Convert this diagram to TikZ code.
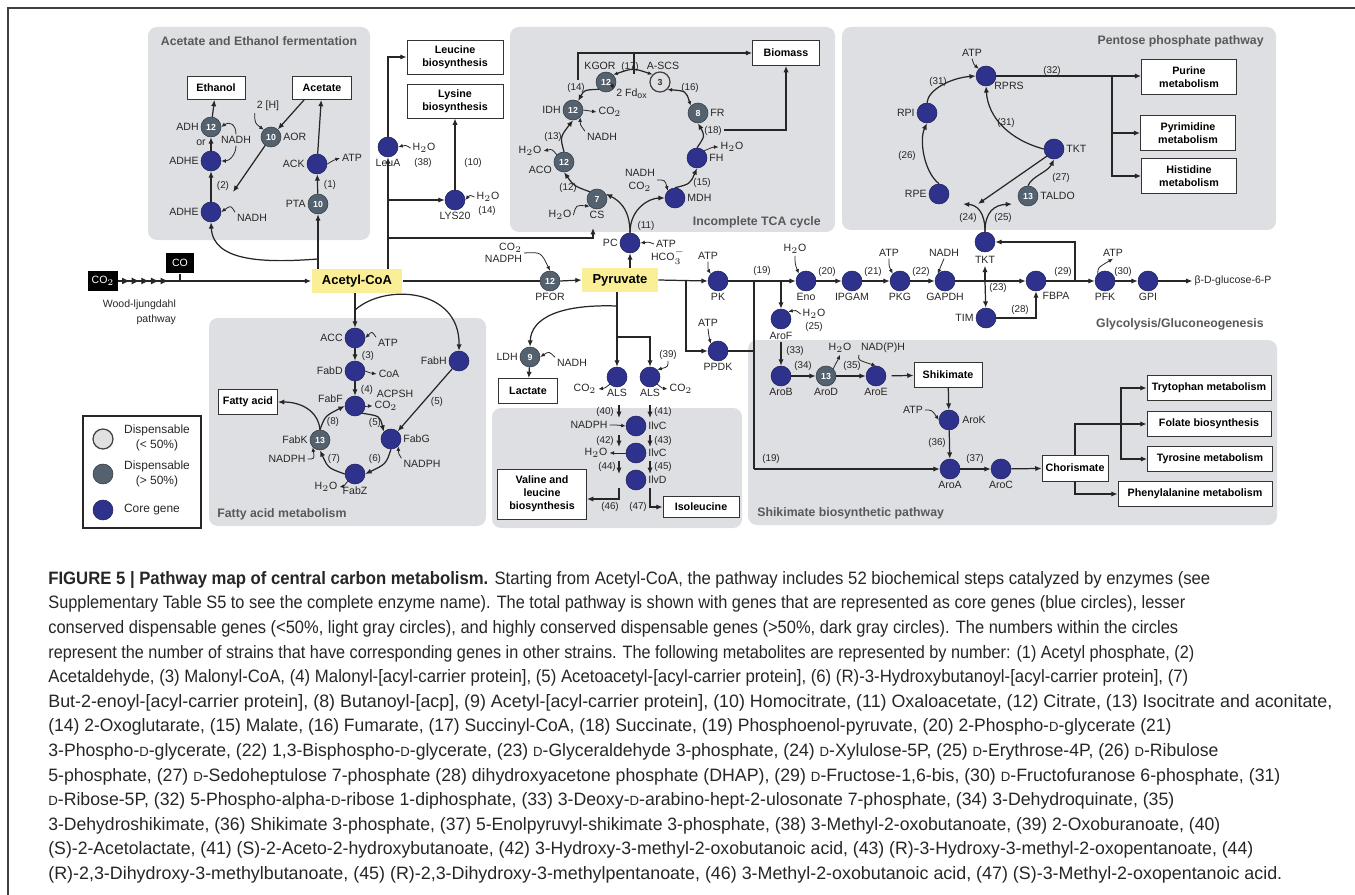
\documentclass[tikz,border=0pt]{standalone}
\usepackage{graphicx}
\usepackage{fontspec}
\setmainfont{Liberation Sans}
\newfontfamily\capfont{Liberation Sans}
\usetikzlibrary{arrows.meta,positioning,calc,decorations.markings}
\definecolor{coreblue}{RGB}{46,50,140}
\definecolor{slategray}{RGB}{84,97,110}
\definecolor{panelgray}{RGB}{222,223,226}
\definecolor{metyellow}{RGB}{250,239,150}
\newcommand\smallD{{\fontsize{7.6}{7.6}\selectfont D}}
\newlength\capunit
\setlength\capunit{0.02cm}
\newcommand\capline[2]{\resizebox{#1\capunit}{\height}{#2}}
\tikzset{
  core/.style={circle, fill=coreblue, draw=coreblue!65!black, line width=0.3pt, minimum size=0.4cm, inner sep=0pt},
  dgray/.style={core, fill=slategray, draw=slategray!60!black, text=white, font=\fontsize{5}{5}\selectfont\bfseries},
  lgray/.style={core, fill=black!12, draw=black!75, line width=0.7pt, text=black!80, font=\fontsize{5}{5}\selectfont\bfseries},
  lab/.style={font=\fontsize{6}{7}\selectfont, text=black!85, inner sep=1pt},
  num/.style={font=\fontsize{5.6}{6}\selectfont, text=black!85, inner sep=0.5pt},
  endbox/.style={draw=black!80, fill=white, line width=0.5pt, font=\fontsize{6.1}{7.4}\selectfont\bfseries, align=center, inner sep=1pt},
  metab/.style={fill=metyellow, font=\fontsize{7.4}{8}\selectfont\bfseries, minimum height=0.48cm, inner sep=2pt},
  blackbox/.style={fill=black, text=white, font=\fontsize{6}{6}\selectfont, minimum height=0.42cm, inner sep=0pt},
  panel/.style={fill=panelgray, rounded corners=5pt},
  title/.style={font=\fontsize{7}{8}\selectfont\bfseries, text=black!65, inner sep=0pt},
  flow/.style={-{Latex[length=3.6pt,width=3pt]}, line width=0.7pt, black!85},
  link/.style={line width=0.7pt, black!85},
  side/.style={-{Latex[length=2.6pt,width=2.2pt]}, line width=0.45pt, black!85},
}

\begin{document}
\begin{tikzpicture}[x=0.02cm, y=-0.02cm]
  \useasboundingbox (0,0) rectangle (1355,895);
  % frame
  \draw[line width=0.8pt, black!75] (1355,8) -- (8,8) -- (8,895);
  % panels
  \fill[panel] (148,27) rectangle (370,240);
  \fill[panel] (510,27) rectangle (835,232);
  \fill[panel] (842,27) rectangle (1276,230);
  \fill[panel] (209,318) rectangle (486,526);
  \fill[panel] (492,408) rectangle (742,528);
  \fill[panel] (748,340) rectangle (1277,525);
  \node[title] (ttlferm) at (259,41) {Acetate and Ethanol fermentation};
  \node[title, anchor=east] (ttltca) at (821,222) {Incomplete TCA cycle};
  \node[title, anchor=east] (ttlppp) at (1264,41) {Pentose phosphate pathway};
  \node[title, anchor=west] (ttlfat) at (217,514) {Fatty acid metabolism};
  \node[title, anchor=west] (ttlshik) at (757,513) {Shikimate biosynthetic pathway};
  \node[title, anchor=east] (ttlglyc) at (1264,324) {Glycolysis/Gluconeogenesis};

  % main line
  \node[metab, minimum width=1.82cm] (acoa) at (357,281) {Acetyl-CoA};
  \node[metab, minimum width=1.52cm] (pyr) at (620,280) {Pyruvate};
  \node[blackbox, minimum width=0.6cm] (co2) at (103,281) {CO$_2$};
  \node[blackbox, minimum width=0.56cm] (co) at (180,263) {CO};
  \node[lab, align=right, anchor=north east, font=\fontsize{6}{8.5}\selectfont] (wood) at (178,298) {Wood-ljungdahl\\pathway};
  \draw[flow, postaction={decorate}, decoration={markings,
    mark=between positions 0.06 and 0.31 step 0.05 with {\arrow{Latex[length=4.5pt,width=4pt]}}}] (co2) -- (acoa);
  \draw[link] (co.south) -- (co.south |- co2);

  % acetate and ethanol fermentation
  \node[endbox, minimum width=1.16cm, minimum height=0.46cm] (ethanol) at (216,88) {Ethanol};
  \node[endbox, minimum width=1.18cm, minimum height=0.46cm] (acetate) at (322,88) {Acetate};
  \node[dgray, label={[lab]left:ADH}] (adh) at (211,127) {12};
  \node[core, label={[lab]left:ADHE}] (adhe1) at (211,161) {};
  \node[core, label={[lab]left:ADHE}] (adhe2) at (211,212) {};
  \node[lab] (or) at (201,143) {or};
  \node[lab] (nadh1) at (236,140) {NADH};
  \node[lab] (nadh2) at (252,218) {NADH};
  \node[num] (s2) at (223,186) {(2)};
  \node[dgray, label={[lab]right:AOR}] (aor) at (271,137) {10};
  \node[lab] (h2a) at (268,106) {2 [H]};
  \node[core, label={[lab]left:ACK}] (ack) at (317,164) {};
  \node[lab] (atp1) at (352,158) {ATP};
  \node[dgray, label={[lab]left:PTA}] (pta) at (318,204) {10};
  \node[num] (s1) at (330,185) {(1)};
  \coordinate (aorend) at (233,192);
  \coordinate (ferm) at (318,259);
  \draw[flow] (adh) -- (ethanol);
  \draw[flow] (adhe1) -- (adh);
  \draw[flow] (adhe2) -- (adhe1);
  \draw[side] (nadh1.north) .. controls +(0,-10) and +(8,-6) .. (adh.east);
  \draw[side] (nadh1.south) .. controls +(0,9) and +(8,0) .. (adhe1.east);
  \draw[side] (nadh2.north west) .. controls +(-4,-7) .. (adhe2.east);
  \draw[flow] ([xshift=0.24cm]acetate.south west) -- (aor);
  \draw[flow] (aor) -- (aorend);
  \draw[side] (h2a.south west) .. controls +(0,10) .. (aor.north west);
  \draw[flow] (pta) -- (ack);
  \draw[flow] (ack) -- (acetate);
  \draw[side] (ack.east) .. controls (334,160) .. (atp1.west);
  \draw[flow] (acoa.north -| pta) -- (pta);
  \draw[flow] (ferm) .. controls (265,263) and (213,262) .. (adhe2.south);

  % leucine and lysine
  \node[endbox, minimum width=1.92cm, minimum height=0.68cm] (leu) at (455,57) {Leucine\\biosynthesis};
  \node[endbox, minimum width=1.92cm, minimum height=0.68cm] (lys) at (455,101) {Lysine\\biosynthesis};
  \node[core, label={[lab]below:LeuA}] (leua) at (388,147) {};
  \node[lab] (h2o38) at (424,148) {H$_2$O};
  \node[num] (s38) at (423,163) {(38)};
  \node[core, label={[lab]below:LYS20}] (lys20) at (455,200) {};
  \node[lab] (h2o14) at (488,197) {H$_2$O};
  \node[num] (s14b) at (487,211) {(14)};
  \node[num] (s10) at (473,163) {(10)};
  \coordinate (lysbr) at (388,200);
  \coordinate (csbr) at (388,238);
  \coordinate (csin) at (593,228);
  \draw[flow] (acoa.north -| leua) -- (leua);
  \draw[flow] (leua) |- (leu.west);
  \draw[side] (h2o38.west) .. controls +(-5,-3) .. (leua.east);
  \draw[flow] (lysbr) -- (lys20);
  \draw[flow] (lys20) -- (lys);
  \draw[side] (h2o14.west) .. controls +(-5,-2) .. (lys20.east);
  \draw[flow] (csbr) -| (csin);

  % incomplete TCA cycle
  \node[endbox, minimum width=1.34cm, minimum height=0.5cm] (biomass) at (786,53) {Biomass};
  \node[dgray] (kgor) at (606,82) {12};
  \node[lab] (kgorl) at (600,66) {KGOR};
  \node[lgray] (ascs) at (660,82) {3};
  \node[lab] (ascsl) at (663,66) {A-SCS};
  \node[num] (s17) at (630,67) {(17)};
  \node[dgray, label={[lab]left:IDH}] (idh) at (573,110) {12};
  \node[lab] (co2idh) at (610,112) {CO$_2$};
  \node[lab] (nadhidh) at (602,137) {NADH};
  \node[num] (s13) at (553,137) {(13)};
  \node[num] (s14) at (576,88) {(14)};
  \node[lab] (fdox) at (632,94) {2 Fd$_{\mathrm{ox}}$};
  \node[dgray, label={[lab]190:ACO}] (aco) at (564,162) {12};
  \node[lab] (h2oaco) at (530,151) {H$_2$O};
  \node[num] (s12) at (568,188) {(12)};
  \node[dgray, label={[lab]below:CS}] (cs) at (597,199) {7};
  \node[lab] (h2ocs) at (560,215) {H$_2$O};
  \node[num] (s11) at (646,226) {(11)};
  \node[core, label={[lab]left:PC}] (pc) at (630,243) {};
  \node[lab] (atppc) at (666,244) {ATP};
  \node[lab] (hco3) at (668,257) {HCO$_3^-$};
  \node[core, label={[lab]right:MDH}] (mdh) at (675,198) {};
  \node[lab, align=center, font=\fontsize{6}{7.4}\selectfont] (nadhmdh) at (640,180) {NADH\\CO$_2$};
  \node[num] (s15) at (702,183) {(15)};
  \node[core, label={[lab]right:FH}] (fh) at (697,158) {};
  \node[lab] (h2ofh) at (732,147) {H$_2$O};
  \node[num] (s18) at (713,131) {(18)};
  \node[dgray, label={[lab]right:FR}] (fr) at (698,113) {8};
  \node[num] (s16) at (690,88) {(16)};
  \coordinate (bm1) at (578,80);
  \coordinate (bm2) at (634,74);
  \coordinate (bm3) at (724,130);
  \draw[flow] (kgor.225) .. controls (584,90) .. (idh.60);
  \draw[flow] (aco.north) .. controls (560,137) .. (idh.south);
  \draw[flow] (cs.north west) .. controls (574,186) .. (aco.south);
  \draw[flow] (mdh.north) .. controls (690,184) .. (fh.south);
  \draw[flow] (fh.north) .. controls (705,136) .. (fr.south);
  \draw[side, {Latex[length=2.6pt,width=2.2pt]}-{Latex[length=2.6pt,width=2.2pt]}, line width=0.7pt] (ascs.south east) .. controls (686,91) .. (fr.north west);
  \draw[side, {Latex[length=2.6pt,width=2.2pt]}-{Latex[length=2.6pt,width=2.2pt]}, line width=0.7pt] (kgor.north east) .. controls (633,68) .. (ascs.north west);
  \draw[flow] (pc.north) .. controls (630,208) and (618,200) .. (cs.30);
  \draw[flow] (pc.north) .. controls (630,208) and (650,198) .. (mdh.west);
  \draw[flow] (pyr.north -| pc) -- (pc);
  \draw[side] (atppc.west) .. controls +(-5,-2) .. (pc.east);
  \draw[side] (idh.east) -- (co2idh.west);
  \draw[side] (nadhidh.north west) .. controls +(-5,-7) .. (idh.south east);
  \draw[side] (fdox.north west) .. controls +(-3,-4) .. (kgor.south east);
  \draw[side] (aco.north west) .. controls (552,149) .. (h2oaco.east);
  \draw[side] (h2ocs.east) .. controls (576,205) .. (cs.south west);
  \draw[side] (nadhmdh.east) .. controls +(8,0) .. (mdh.north west);
  \draw[side] (fh.north east) .. controls (713,147) .. (h2ofh.west);
  \draw[flow] (bm1) |- (biomass.west);
  \draw[link] (bm2) -- (bm2 |- biomass.west);
  \draw[flow] (bm3) -| (biomass.south);

  % pyruvate row
  \node[dgray, label={[lab]below:PFOR}] (pfor) at (550,281) {12};
  \node[lab, align=right, anchor=east, font=\fontsize{6}{6.6}\selectfont] (nadphpf) at (524,253) {CO$_2$\\NADPH};
  \draw[side] (nadphpf.east) .. controls (541,252) .. (pfor.north);
  \draw[link] (acoa.east) -- (pfor.west);
  \draw[flow] (pfor.east) -- (pyr.west);
  \node[core, label={[lab]below:PK}] (pk) at (718,281) {};
  \node[lab] (atppk) at (708,256) {ATP};
  \node[core, label={[lab]below:PPDK}] (ppdk) at (718,351) {};
  \node[lab] (atppp) at (708,323) {ATP};
  \coordinate (ppbr) at (686,281);
  \coordinate (shbr) at (754,281);
  \coordinate (shbot) at (754,469);
  \coordinate (arofbr) at (781,281);
  \draw[flow] (pyr.east) -- (pk.west);
  \draw[side] (atppk.south) .. controls +(0,8) .. (pk.north west);
  \draw[flow] (ppbr) |- (ppdk.west);
  \draw[side] (atppp.south) .. controls +(1,8) .. (ppdk.north west);
  \draw[link] (ppdk.east) -- (ppdk.east -| shbr);
  \draw[link] (shbr) -- (shbot);
  \node[num] (s19) at (762,271) {(19)};
  \node[num] (s19b) at (771,459) {(19)};

  % shikimate pathway
  \node[core] (arof) at (781,319) {};
  \node[lab] (arofl) at (781,336) {AroF};
  \node[lab] (h2oarof) at (814,314) {H$_2$O};
  \node[num] (s25b) at (814,327) {(25)};
  \node[num] (s33) at (795,351) {(33)};
  \node[core, label={[lab]below:AroB}] (arob) at (781,376) {};
  \node[dgray, label={[lab]below:AroD}] (arod) at (826,376) {13};
  \node[core, label={[lab]below:AroE}] (aroe) at (876,376) {};
  \node[num] (s34) at (803,366) {(34)};
  \node[num] (s35) at (852,366) {(35)};
  \node[lab] (h2oarod) at (840,348) {H$_2$O};
  \node[lab] (nadpharoe) at (883,348) {NAD(P)H};
  \node[endbox, minimum width=1.36cm, minimum height=0.5cm] (shik) at (948,375) {Shikimate};
  \node[core] (arok) at (949,420) {};
  \node[lab] (arokl) at (974,420) {AroK};
  \node[lab] (atparok) at (913,410) {ATP};
  \node[num] (s36) at (937,443) {(36)};
  \node[core, label={[lab]below:AroA}] (aroa) at (950,469) {};
  \node[core, label={[lab]below:AroC}] (aroc) at (1001,469) {};
  \node[num] (s37) at (975,459) {(37)};
  \node[endbox, minimum width=1.32cm, minimum height=0.52cm] (chor) at (1075,468) {Chorismate};
  \node[endbox, minimum width=2.48cm, minimum height=0.5cm] (trp) at (1209,388) {Trytophan metabolism};
  \node[endbox, minimum width=2.48cm, minimum height=0.5cm] (fol) at (1209,424) {Folate biosynthesis};
  \node[endbox, minimum width=2.5cm, minimum height=0.5cm] (tyr) at (1210,459) {Tyrosine metabolism};
  \node[endbox, minimum width=3.08cm, minimum height=0.5cm] (phe) at (1195,494) {Phenylalanine metabolism};
  \coordinate (aabr) at (1121,424);
  \draw[flow] (arofbr) -- (arof);
  \draw[side] (h2oarof.west) .. controls +(-5,-4) .. (arof.north east);
  \draw[flow] (arofl) -- (arob);
  \draw[flow] (arob) -- (arod);
  \draw[flow] (arod) -- (aroe);
  \draw[side] (arod.north east) .. controls +(3,-5) .. (h2oarod.south);
  \draw[side] (nadpharoe.south west) .. controls +(-1,5) .. (aroe.north);
  \draw[flow, shorten <=3pt] (aroe) -- (shik);
  \draw[flow] (shik) -- (arok);
  \draw[side] (atparok.east) .. controls +(7,0) .. (arok.west);
  \draw[flow] (arok) -- (aroa);
  \draw[flow] (shbot) -- (aroa.west);
  \draw[flow] (aroa) -- (aroc);
  \draw[flow] (aroc) -- (chor);
  \draw[flow] (chor.north) |- (fol.west);
  \draw[flow] (aabr) |- (trp.west);
  \draw[flow] (aabr) |- (tyr.west);
  \draw[flow] (chor.south) |- (phe.west);

  % glycolysis / gluconeogenesis
  \node[core, label={[lab]below:Eno}] (eno) at (806,281) {};
  \node[lab] (h2oeno) at (795,249) {H$_2$O};
  \node[core, label={[lab]below:IPGAM}] (ipgam) at (852,281) {};
  \node[core, label={[lab]below:PKG}] (pkg) at (900,281) {};
  \node[lab] (atppkg) at (889,253) {ATP};
  \node[core, label={[lab]below:GAPDH}] (gapdh) at (945,281) {};
  \node[lab] (nadhgap) at (944,253) {NADH};
  \node[core] (fbpa) at (1036,281) {};
  \node[lab] (fbpal) at (1056,296) {FBPA};
  \node[core] (tkt2) at (985,242) {};
  \node[lab] (tkt2l) at (985,260) {TKT};
  \node[core, label={[lab]left:TIM}] (tim) at (986,318) {};
  \node[core, label={[lab]below:PFK}] (pfk) at (1105,281) {};
  \node[lab] (atppfk) at (1113,253) {ATP};
  \node[core, label={[lab]below:GPI}] (gpi) at (1148,281) {};
  \node[lab] (glc6p) at (1233,281) {β-D-glucose-6-P};
  \node[num] (s20) at (827,272) {(20)};
  \node[num] (s21) at (873,272) {(21)};
  \node[num] (s22) at (921,272) {(22)};
  \node[num] (s23) at (998,288) {(23)};
  \node[num] (s28) at (1020,310) {(28)};
  \node[num] (s29) at (1063,272) {(29)};
  \node[num] (s30) at (1123,272) {(30)};
  \coordinate (tktbr) at (985,281);
  \coordinate (tktbr2) at (1075,281);
  \draw[flow] (pk.east) -- (eno.west);
  \draw[side] (h2oeno.south) .. controls +(0,8) .. (eno.north west);
  \draw[flow] (eno) -- (ipgam);
  \draw[flow] (ipgam) -- (pkg);
  \draw[side] (atppkg.south) .. controls +(0,8) .. (pkg.north west);
  \draw[flow] (pkg) -- (gapdh);
  \draw[side] (nadhgap.south) .. controls +(-3,7) .. (gapdh.north west);
  \draw[flow] (gapdh) -- (fbpa);
  \draw[flow] (tktbr) -- (tkt2l);
  \draw[flow] (tktbr) -- (tim);
  \draw[flow] (tim) -| (fbpa);
  \draw[flow] (fbpa) -- (pfk);
  \draw[flow] (tktbr2) |- (tkt2);
  \draw[side] (pfk.north west) .. controls +(0,-6) .. (atppfk.south);
  \draw[flow] (pfk) -- (gpi);
  \draw[flow] (gpi) -- (glc6p);

  % pentose phosphate pathway
  \node[core] (rprs) at (986,76) {};
  \node[lab] (rprsl) at (1009,86) {RPRS};
  \node[lab] (atprprs) at (972,53) {ATP};
  \node[core, label={[lab]left:RPI}] (rpi) at (927,113) {};
  \node[core, label={[lab]left:RPE}] (rpe) at (939,194) {};
  \node[core, label={[lab]right:TKT}] (tkt1) at (1054,149) {};
  \node[dgray, label={[lab]right:TALDO}] (taldo) at (1028,196) {13};
  \node[num] (s31a) at (938,82) {(31)};
  \node[num] (s26) at (907,156) {(26)};
  \node[num] (s31b) at (1006,123) {(31)};
  \node[num] (s27) at (1061,178) {(27)};
  \node[num] (s24) at (968,218) {(24)};
  \node[num] (s25) at (1003,218) {(25)};
  \node[num] (s32) at (1052,71) {(32)};
  \node[endbox, minimum width=1.9cm, minimum height=0.7cm] (pur) at (1189,77) {Purine\\metabolism};
  \node[endbox, minimum width=1.9cm, minimum height=0.7cm] (pyrim) at (1188,133) {Pyrimidine\\metabolism};
  \node[endbox, minimum width=1.9cm, minimum height=0.7cm] (his) at (1189,176) {Histidine\\metabolism};
  \coordinate (tktin) at (978,204);
  \coordinate (l24) at (963,204);
  \coordinate (r25) at (1012,204);
  \coordinate (ntbr) at (1112,76);
  \draw[side] (atprprs.south) .. controls +(2,6) .. (rprs.north west);
  \draw[flow] (rpi.north) .. controls (928,90) and (950,78) .. (rprs.west);
  \draw[flow] (rpe.north) .. controls (924,172) and (919,140) .. (rpi.south);
  \draw[flow] (tkt1.west) .. controls (1010,140) and (988,118) .. (rprs.south);
  \draw[flow] (taldo.north) .. controls (1032,176) and (1048,172) .. (tkt1.south);
  \draw[flow] (tkt1.south west) -- (tktin);
  \draw[flow] (tkt2.north) .. controls (985,212) and (977,205) .. (l24);
  \draw[flow] (tkt2.north) .. controls (985,212) and (994,205) .. (r25);
  \draw[flow] (rprs) -- (rprs -| pur.west);
  \draw[flow] (ntbr) |- (pyrim.west);
  \draw[flow] (ntbr) |- (his.west);

  % fatty acid metabolism
  \node[core, label={[lab]left:ACC}] (acc) at (355,338) {};
  \node[core, label={[lab]left:FabH}] (fabh) at (459,361) {};
  \node[lab] (atpacc) at (388,343) {ATP};
  \node[core, label={[lab]left:FabD}] (fabd) at (355,371) {};
  \node[lab] (coafabd) at (389,374) {CoA};
  \node[core, label={[lab]170:FabF}] (fabf) at (355,406) {};
  \node[lab] (acpsh) at (395,394) {ACPSH};
  \node[lab] (co2fabf) at (386,406) {CO$_2$};
  \node[core, label={[lab]right:FabG}] (fabg) at (391,439) {};
  \node[lab] (nadphg) at (422,464) {NADPH};
  \node[core, label={[lab]below:FabZ}] (fabz) at (355,474) {};
  \node[lab] (h2ofabz) at (326,487) {H$_2$O};
  \node[dgray, label={[lab]left:FabK}] (fabk) at (320,440) {13};
  \node[lab] (nadphk) at (287,459) {NADPH};
  \node[endbox, minimum width=1.18cm, minimum height=0.5cm] (fatty) at (248,402) {Fatty acid};
  \node[num] (s3) at (368,356) {(3)};
  \node[num] (s4) at (367,390) {(4)};
  \node[num] (s5a) at (375,423) {(5)};
  \node[num] (s5b) at (437,402) {(5)};
  \node[num] (s6) at (375,459) {(6)};
  \node[num] (s7) at (334,459) {(7)};
  \node[num] (s8) at (333,422) {(8)};
  \coordinate (fabhbr) at (355,310);
  \draw[flow] (acoa.south -| acc) -- (acc);
  \draw[flow] (fabhbr) .. controls (385,283) and (460,288) .. (fabh.north);
  \draw[side] (atpacc.north west) .. controls +(-4,-6) .. (acc.east);
  \draw[flow] (acc) -- (fabd);
  \draw[side] (fabd.east) .. controls +(5,2) .. (coafabd.west);
  \draw[flow] (fabd) -- (fabf);
  \draw[side] (fabf.east) .. controls +(5,0) .. (co2fabf.west);
  \draw[flow] (fabf.south east) .. controls (380,416) .. (fabg.north west);
  \draw[flow] (fabh) -- (fabg);
  \draw[side] (nadphg.north west) .. controls +(-3,-5) .. (fabg.south east);
  \draw[flow] (fabg.south) .. controls (386,464) .. (fabz.east);
  \draw[side] (fabz.south west) .. controls +(-4,5) .. (h2ofabz.east);
  \draw[flow] (fabz.west) .. controls (328,468) .. (fabk.south);
  \draw[side] (nadphk.east) .. controls +(7,0) .. (fabk.south west);
  \draw[flow] (fabk.north) .. controls (325,416) .. (fabf.west);
  \draw[flow] (fabk.north) .. controls (318,410) and (300,402) .. (fatty.east);

  % pyruvate branches
  \node[dgray, label={[lab]left:LDH}] (ldh) at (530,357) {9};
  \node[lab] (nadhldh) at (572,363) {NADH};
  \node[endbox, minimum width=1.18cm, minimum height=0.5cm] (lac) at (528,391) {Lactate};
  \node[core, label={[lab]below:ALS}] (als1) at (617,377) {};
  \node[core, label={[lab]below:ALS}] (als2) at (650,377) {};
  \node[lab] (co2als1) at (585,389) {CO$_2$};
  \node[lab] (co2als2) at (681,389) {CO$_2$};
  \node[num] (s39) at (668,355) {(39)};
  \coordinate (pyrdn) at (617,306);
  \coordinate (alsbr) at (617,337);
  \draw[flow] (pyr.south -| als1) -- (als1);
  \draw[flow] (pyrdn) .. controls (560,304) and (531,318) .. (ldh.north);
  \draw[flow] (alsbr) -| (als2);
  \draw[side] (nadhldh.north west) .. controls +(-6,-6) .. (ldh.east);
  \draw[flow] (ldh) -- (lac);
  \draw[side] (als1.south west) .. controls +(-5,4) .. (co2als1.east);
  \draw[side] (als2.south east) .. controls +(5,4) .. (co2als2.west);
  \draw[side] (s39.south) .. controls +(0,6) .. (als2.north east);

  % valine, leucine and isoleucine
  \node[core, label={[lab]right:IlvC}] (ilvc1) at (636,426) {};
  \node[core, label={[lab]right:IlvC}] (ilvc2) at (636,453) {};
  \node[core, label={[lab]right:IlvD}] (ilvd) at (636,480) {};
  \node[lab] (nadphc) at (589,425) {NADPH};
  \node[lab] (h2oc) at (596,453) {H$_2$O};
  \node[num] (s40) at (605,412) {(40)};
  \node[num] (s41) at (663,412) {(41)};
  \node[num] (s42) at (605,441) {(42)};
  \node[num] (s43) at (663,441) {(43)};
  \node[num] (s44) at (607,467) {(44)};
  \node[num] (s45) at (663,467) {(45)};
  \node[num] (s46) at (610,507) {(46)};
  \node[num] (s47) at (638,507) {(47)};
  \node[endbox, minimum width=1.78cm, minimum height=1cm] (val) at (542,494) {Valine and\\leucine\\biosynthesis};
  \node[endbox, minimum width=1.52cm, minimum height=0.42cm] (iso) at (701,507) {Isoleucine};
  \foreach \cx in {619,650}{
    \draw[flow] (\cx,405) -- (\cx,418);
    \draw[flow] (\cx,435) -- (\cx,447);
    \draw[flow] (\cx,461) -- (\cx,474);
  }
  \coordinate (valst) at (619,488);
  \coordinate (isost) at (650,488);
  \draw[side] (nadphc.east) .. controls +(7,0) .. (ilvc1.west);
  \draw[side] (ilvc2.west) .. controls +(-7,0) .. (h2oc.east);
  \draw[flow] (valst) |- ([yshift=-0.1cm]val.east);
  \draw[flow] (isost) |- (iso.west);

  % legend
  \node[draw=black!85, line width=0.7pt, minimum width=2.36cm, minimum height=2.24cm] (legend) at (142,472) {};
  \node[lgray] (leg1) at (103,439) {};
  \node[dgray] (leg2) at (103,474) {};
  \node[core] (leg3) at (103,510) {};
  \node[lab, align=center, font=\fontsize{6.8}{8.5}\selectfont] (leg1t) at (157,438) {Dispensable\\(< 50\%)};
  \node[lab, align=center, font=\fontsize{6.8}{8.5}\selectfont] (leg2t) at (157,474) {Dispensable\\(> 50\%)};
  \node[lab, anchor=west, font=\fontsize{6.8}{8.5}\selectfont] (leg3t) at (122,510) {Core gene};

  % caption
  \node[anchor=north west, align=left, inner sep=0pt, text=black!85,
        font=\capfont\fontsize{10.2}{14}\selectfont] (caption) at (48,571) {%
\capline{1162}{\textbf{FIGURE 5 | Pathway map of central carbon metabolism.} Starting from Acetyl-CoA, the pathway includes 52 biochemical steps catalyzed by enzymes (see}\\
\capline{1137}{Supplementary Table S5 to see the complete enzyme name). The total pathway is shown with genes that are represented as core genes (blue circles), lesser}\\
\capline{1130}{conserved dispensable genes (<50\%, light gray circles), and highly conserved dispensable genes (>50\%, dark gray circles). The numbers within the circles}\\
\capline{1146}{represent the number of strains that have corresponding genes in other strains. The following metabolites are represented by number: (1) Acetyl phosphate, (2)}\\
\capline{1140}{Acetaldehyde, (3) Malonyl-CoA, (4) Malonyl-[acyl-carrier protein], (5) Acetoacetyl-[acyl-carrier protein], (6) (R)-3-Hydroxybutanoyl-[acyl-carrier protein], (7)}\\
\capline{1284}{But-2-enoyl-[acyl-carrier protein], (8) Butanoyl-[acp], (9) Acetyl-[acyl-carrier protein], (10) Homocitrate, (11) Oxaloacetate, (12) Citrate, (13) Isocitrate and aconitate,}\\
\capline{1123}{(14) 2-Oxoglutarate, (15) Malate, (16) Fumarate, (17) Succinyl-CoA, (18) Succinate, (19) Phosphoenol-pyruvate, (20) 2-Phospho-\smallD-glycerate (21)}\\
\capline{1170}{3-Phospho-\smallD-glycerate, (22) 1,3-Bisphospho-\smallD-glycerate, (23) \smallD-Glyceraldehyde 3-phosphate, (24) \smallD-Xylulose-5P, (25) \smallD-Erythrose-4P, (26) \smallD-Ribulose}\\
\capline{1232}{5-phosphate, (27) \smallD-Sedoheptulose 7-phosphate (28) dihydroxyacetone phosphate (DHAP), (29) \smallD-Fructose-1,6-bis, (30) \smallD-Fructofuranose 6-phosphate, (31)}\\
\capline{1126}{\smallD-Ribose-5P, (32) 5-Phospho-alpha-\smallD-ribose 1-diphosphate, (33) 3-Deoxy-\smallD-arabino-hept-2-ulosonate 7-phosphate, (34) 3-Dehydroquinate, (35)}\\
\capline{1172}{3-Dehydroshikimate, (36) Shikimate 3-phosphate, (37) 5-Enolpyruvyl-shikimate 3-phosphate, (38) 3-Methyl-2-oxobutanoate, (39) 2-Oxoburanoate, (40)}\\
\capline{1205}{(S)-2-Acetolactate, (41) (S)-2-Aceto-2-hydroxybutanoate, (42) 3-Hydroxy-3-methyl-2-oxobutanoic acid, (43) (R)-3-Hydroxy-3-methyl-2-oxopentanoate, (44)}\\
\capline{1234}{(R)-2,3-Dihydroxy-3-methylbutanoate, (45) (R)-2,3-Dihydroxy-3-methylpentanoate, (46) 3-Methyl-2-oxobutanoic acid, (47) (S)-3-Methyl-2-oxopentanoic acid.}};
\end{tikzpicture}
\end{document}
